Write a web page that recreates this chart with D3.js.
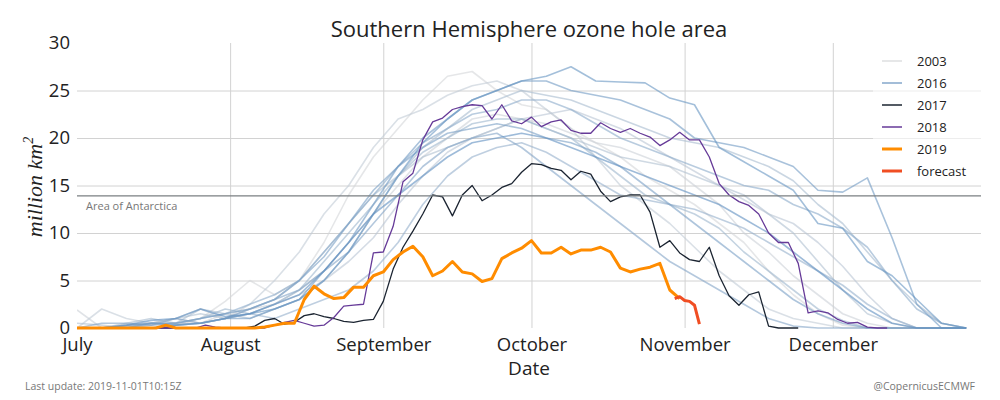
<!DOCTYPE html>
<html>
<head>
<meta charset="utf-8">
<script src="https://cdn.jsdelivr.net/npm/d3@7"></script>
<style>
  body { margin: 0; background: #fff; }
  text { font-family: "Open Sans", sans-serif; }
</style>
</head>
<body>
<svg id="chart" width="1000" height="400"></svg>
<script>
const width = 1000;
const height = 400;
const plot = { left: 77, right: 981, top: 43, bottom: 328 };

// season runs from 1 July to 31 December
const seasonStart = new Date(2019, 6, 1);
const seasonEnd = new Date(2019, 11, 31);
const monthTicks = [6, 7, 8, 9, 10, 11].map((m) => new Date(2019, m, 1));
const yTicks = [0, 5, 10, 15, 20, 25, 30];
const antarcticaArea = 13.9;

// past years, one value every 5 days from 1 July (million km²)
const y2003 = [0,0,0,0.5,0.3,1,2.8,5,3.5,5, 9,14,18,21,24,26.5,27,25,23.5,23, 21,19.5,18,16,14.5,13,11,9,6,3.5, 1.5,0.3,0,0,0,0,0];
const y2004 = [1.9,0,0.3,0.5,1,0.5,1.5,2,2.5,4, 6,9,12,15,18,20,22,22.5,22,21.5, 20.5,19.5,19,18,17,15,13,10,8,5.5, 3.5,1.5,0.5,0,0,0,0];
const y2005 = [0,2,1,0.5,1,2,1,2.5,5,8, 12,15,19,22,23,24.5,25.5,26,25,23, 21,18,15,13,11,8.5,6,4,2,1, 0.5,0,0,0,0,0,0];
const y2006 = [0,0,0,0.3,0.5,0.5,1,1.5,2.5,3.5, 5,7,9.5,13,16,18.5,20,21,22,22.5, 23,22,21,19.5,18,16.5,15,13.5,12,11, 9,6.5,3.5,1,0,0,0];
const y2007 = [0.5,0.3,0,0.5,1,1.5,1,2,3,5, 8,11,14,16,18,19,20,21,22,21, 20,19,18,17.5,17,16,15,14,12,10, 7,4,1.5,0.5,0,0,0];
const y2008 = [0,0,0.5,1,0.5,2,1.5,1,2,3, 5,8,12,16,19,21,23,24,25,24.5, 24,23,22,21,20,19.5,19,18,17,15.5, 13,11,8,5,2.5,0.5,0];
const y2009 = [0,0,0,0.3,0.5,1,2,1.5,2.5,4, 7,10,13,16,18.5,20,21.5,22,22,21, 20,18,16,14,13,12,10.5,8,6,4, 2,0.8,0,0,0,0,0];
const y2010 = [0,0,0,0,0.3,0.5,1,1.5,1,2, 3,4,6,9,13,16,18,19,19.5,18.5, 17,15.5,14,13.5,13,12.5,11.5,10.5,9,7.5, 6,4.5,2.5,1,0,0,0];
const y2011 = [0,0,0.3,0.5,0.5,1,1.5,2.5,3.5,5, 8,11,14,17,19.5,21,22.5,23,24,24, 23,21.5,20,19,18,17,16,15,14.5,13, 12,10.5,8.5,5,2,0.5,0];
const y2012 = [0,0.5,0.5,0.3,1,0.5,1,2,3,4, 6,8,11,14,17,19,20,20.5,19,17, 15,13,11,9,7,5.5,4,2.5,1,0.2, 0,0,0,0,0,0,0];
const y2013 = [0,0,0,0.5,0.5,1,1.5,2,3,5, 7.5,11,14.5,17,19,20.5,21,21.5,21,20, 19.5,18.5,17,15,13,11,9,7,5,3, 1.5,0.5,0,0,0,0,0];
const y2014 = [0,0,0.2,0.5,0.3,0.5,1,1,2,3, 6,9,13,17,20,22,24,25,26,26, 25,24.5,24,23,22,20,19.5,19,18,17, 14.5,14.3,15.8,9.5,2.5,0,0];
const y2015 = [0,0,0,0,0.3,0.5,1,1.5,2,3, 5,8,12,16,19.5,22,24,25,26,26.5, 27.5,26,25.9,25.8,24.2,23.5,19,17.5,16,14.5, 11,10.5,7,5.5,3,0.5,0];
const y2016 = [0,0,0.3,0.8,1,2,1.2,1.5,2.5,3.5, 6,9,12,14,16,18,19.5,20,20.5,20, 19,18,17,16,15,14,13,11.5,10,8, 6,4,2,0.5,0,0,0];
const pastYears = [2003, 2004, 2005, 2006, 2007, 2008, 2009, 2010, 2011, 2012, 2013, 2014, 2015, 2016];
const pastValues = [y2003, y2004, y2005, y2006, y2007, y2008, y2009, y2010, y2011, y2012, y2013, y2014, y2015, y2016];

// recent years, one value every 2 days from 1 July
const y2017 = [0,0,0,0,0,0,0,0,0,0, 0,0,0,0,0,0,0,0,0.2,0.8, 1.0,0.4,0.6,1.3,1.5,1.2,1.0,0.7,0.6,0.8,
  0.9,2.8,6.2,8.5,10.2,12.0,14.0,13.8,11.8,14.0, 15.0,13.4,14.0,14.8,15.2,16.4,17.3,17.2,16.8,16.6,
  15.6,16.5,16.2,14.4,13.3,13.8,14.0,14.0,12.2,8.5, 9.2,7.9,7.2,7.0,8.5,5.5,3.4,2.4,3.5,3.8, 0.2,0,0,0];
const y2018 = [0,0,0,0,0,0,0,0,0,0, 0,0,0,0.3,0.1,0,0,0,0,0, 0.3,0.6,0.8,0.5,0.2,0.3,1.1,2.3,2.4,2.5,
  7.9,8.0,10.7,15.4,16.3,19.8,21.7,22.1,23.0,23.3, 23.5,23.4,22.0,23.5,21.8,21.5,22.2,21.2,21.7,21.9,
  20.8,20.5,20.5,21.6,21.0,20.6,21.0,20.5,20.1,19.2, 19.8,20.6,19.8,19.8,18.0,15.2,14.0,13.3,12.9,12.0,
  10.0,9.0,9.0,6.8,1.6,1.8,1.6,0.9,0.5,0.6, 0.1,0,0];
const y2019 = [0,0,0,0,0,0,0,0,0,0.3, 0,0,0,0,0,0,0,0,0,0.1, 0.3,0.5,0.5,3.0,4.4,3.6,3.1,3.2,4.3,4.3,
  5.5,5.9,7.2,8.0,8.6,7.5,5.5,6.0,7.0,5.9, 5.7,4.9,5.2,7.3,7.9,8.4,9.2,7.9,7.9,8.5,
  7.8,8.2,8.2,8.5,8.0,6.3,5.9,6.2,6.4,6.8, 4.0,3.1];
// forecast, daily from 30 October
const forecastStart = new Date(2019, 9, 30);
const forecast = [3.1, 3.3, 2.9, 2.8, 2.4, 0.4];

const svg = d3.select("#chart");

const x = d3.scaleTime().domain([seasonStart, seasonEnd]).range([plot.left, plot.right]);
const y = d3.scaleLinear().domain([0, 30]).range([plot.bottom, plot.top]);

function toPoints(values, start, step) {
  return values.map((v, i) => ({ date: d3.timeDay.offset(start, i * step), value: v }));
}

const line = d3.line()
  .x((d) => x(d.date))
  .y((d) => y(d.value));

// grid
svg.append("g")
  .attr("transform", `translate(0,${plot.bottom})`)
  .call(d3.axisBottom(x).tickValues(monthTicks.slice(1)).tickSize(-(plot.bottom - plot.top)).tickFormat(""))
  .call((g) => g.select(".domain").remove())
  .selectAll("line").attr("stroke", "#d2d2d2");

svg.append("g")
  .attr("transform", `translate(${plot.left},0)`)
  .call(d3.axisLeft(y).tickValues([5, 10, 15, 20, 25]).tickSize(-(plot.right - plot.left)).tickFormat(""))
  .call((g) => g.select(".domain").remove())
  .selectAll("line").attr("stroke", "#d2d2d2");

svg.append("clipPath").attr("id", "clip")
  .append("rect")
  .attr("x", plot.left).attr("y", plot.top - 2)
  .attr("width", plot.right - plot.left).attr("height", plot.bottom - plot.top + 4);

const lines = svg.append("g").attr("clip-path", "url(#clip)");

const pastColor = d3.scaleLinear().domain([2003, 2016]).range(["#d4d6d9", "#5d8ebf"]).interpolate(d3.interpolateRgb);

pastYears.forEach((yr, i) => {
  lines.append("path")
    .datum(toPoints(pastValues[i], seasonStart, 5))
    .attr("fill", "none")
    .attr("stroke", pastColor(yr))
    .attr("stroke-opacity", 0.6)
    .attr("stroke-width", 1.6)
    .attr("stroke-linejoin", "round")
    .attr("d", line);
});

// area of Antarctica reference line
svg.append("line")
  .attr("x1", plot.left).attr("x2", plot.right)
  .attr("y1", y(antarcticaArea)).attr("y2", y(antarcticaArea))
  .attr("stroke", "#7a7f82").attr("stroke-width", 1.2);
svg.append("text")
  .attr("x", plot.left + 9).attr("y", y(antarcticaArea) + 14)
  .attr("font-size", 11).attr("fill", "#777")
  .text("Area of Antarctica");

const recent = [
  { values: y2017, color: "#1b2431", w: 1.3 },
  { values: y2018, color: "#663a98", w: 1.3 },
  { values: y2019, color: "#ff8c00", w: 3 }
];
recent.forEach((s) => {
  lines.append("path")
    .datum(toPoints(s.values, seasonStart, 2))
    .attr("fill", "none")
    .attr("stroke", s.color)
    .attr("stroke-width", s.w)
    .attr("stroke-linejoin", "round")
    .attr("d", line);
});

lines.append("path")
  .datum(toPoints(forecast, forecastStart, 1))
  .attr("fill", "none")
  .attr("stroke", "#f04e23")
  .attr("stroke-width", 3)
  .attr("stroke-linejoin", "round")
  .attr("d", line);

// axes labels
const xAxis = svg.append("g")
  .attr("transform", `translate(0,${plot.bottom})`)
  .call(d3.axisBottom(x).tickValues(monthTicks).tickSize(0).tickPadding(10).tickFormat(d3.timeFormat("%B")));
xAxis.select(".domain").remove();
xAxis.selectAll("text").attr("font-size", 18.5).attr("fill", "#222").style("font-family", "Open Sans");

const yAxis = svg.append("g")
  .attr("transform", `translate(${plot.left},0)`)
  .call(d3.axisLeft(y).tickValues(yTicks).tickSize(0).tickPadding(7));
yAxis.select(".domain").remove();
yAxis.selectAll("text").attr("font-size", 18.5).attr("fill", "#222").attr("dy", "0.3em").style("font-family", "Open Sans");

// titles
svg.append("text")
  .attr("x", 529).attr("y", 37)
  .attr("text-anchor", "middle")
  .attr("font-size", 22).attr("fill", "#222")
  .text("Southern Hemisphere ozone hole area");

svg.append("text")
  .attr("x", 529).attr("y", 375)
  .attr("text-anchor", "middle")
  .attr("font-size", 19).attr("fill", "#222")
  .text("Date");

const yTitle = svg.append("text")
  .attr("transform", `translate(42,187) rotate(-90)`)
  .attr("text-anchor", "middle")
  .attr("font-size", 22).attr("fill", "#222")
  .style("font-family", "Liberation Serif, serif").style("font-style", "italic")
  .text("million km");
yTitle.append("tspan").attr("font-size", 14).attr("dy", -9).text("2");

svg.append("text")
  .attr("x", 25).attr("y", 390)
  .attr("font-size", 10.5).attr("fill", "#777")
  .text("Last update: 2019-11-01T10:15Z");

svg.append("text")
  .attr("x", 975).attr("y", 390)
  .attr("text-anchor", "end")
  .attr("font-size", 10.5).attr("fill", "#777")
  .text("@CopernicusECMWF");

// legend
const legendItems = [
  { label: "2003", color: "#e6e7e8", w: 2 },
  { label: "2016", color: "#a3bdd8", w: 2 },
  { label: "2017", color: "#1b2431", w: 1.5 },
  { label: "2018", color: "#663a98", w: 1.5 },
  { label: "2019", color: "#ff8c00", w: 3 },
  { label: "forecast", color: "#f04e23", w: 3 }
];

const legend = svg.append("g");
legend.append("rect")
  .attr("x", 873).attr("y", plot.top)
  .attr("width", plot.right - 873).attr("height", 140)
  .attr("fill", "#fff").attr("fill-opacity", 0.6);

const item = legend.selectAll("g.item")
  .data(legendItems)
  .enter()
  .append("g")
  .attr("transform", (d, i) => `translate(0,${61 + i * 22})`);

item.append("line")
  .attr("x1", 882).attr("x2", 902)
  .attr("stroke", (d) => d.color)
  .attr("stroke-width", (d) => d.w);

item.append("text")
  .attr("x", 917).attr("y", 4.5)
  .attr("font-size", 13).attr("fill", "#222")
  .text((d) => d.label);
</script>
</body>
</html>
